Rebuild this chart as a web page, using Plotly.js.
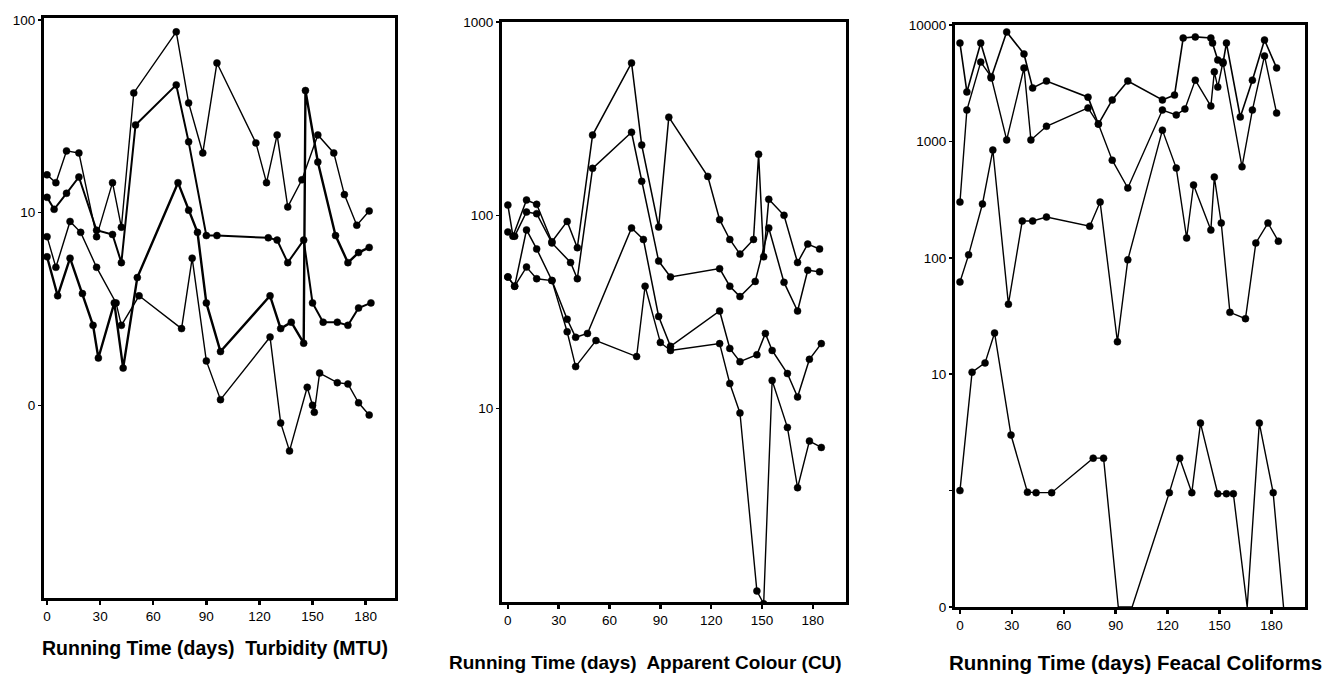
<!DOCTYPE html>
<html>
<head>
<meta charset="utf-8">
<script src="https://cdn.plot.ly/plotly-3.0.1.min.js"></script>
<style>html,body{margin:0;padding:0;background:#fff;}#chart{width:1330px;height:674px;}</style>
</head>
<body>
<div id="chart"></div>
<script>
// ---------- Panel 1: Turbidity (MTU) ----------
const turbA_days = [0,5,11,18,28,37,42,49,73,80,88,96,118,124,130,136,144,153,162,168,175,182];
const turbA_vals = [15.7,14.3,20.9,20.4,7.5,14.3,8.4,41.8,86.7,37.1,20.4,59.8,23,14.3,25.3,10.7,14.8,25.3,20.4,12.4,8.6,10.2];
const turbB_days = [0,4,11,18,28,37,42,50,73,80,90,96,125,130,136,145,150,156,164,170,176,183];
const turbB_vals = [12,10.4,12.6,15.3,8.1,7.7,5.5,28.5,46,23.3,7.6,7.6,7.4,7.2,5.5,7.2,3.4,2.7,2.7,2.6,3.2,3.4];
const turbC_days = [0,5,13,19,28,39,42,52,76,82,90,98,126,132,137,147,150,151,154,164,170,176,182];
const turbC_vals = [7.5,5.2,9.0,7.9,5.2,3.4,2.6,3.7,2.5,5.8,1.7,1.07,2.26,0.81,0.58,1.24,1.0,0.92,1.47,1.31,1.29,1.03,0.89];
const turbD_days = [0,6,13,20,26,29,38,43,51,74,80,85,90,98,126,132,138,145,146,153,163,170,176,182];
const turbD_vals = [5.9,3.7,5.8,3.8,2.6,1.76,3.4,1.56,4.6,14.3,10.3,7.9,3.4,1.9,3.7,2.5,2.7,2.1,43,18.3,7.6,5.5,6.2,6.6];

// ---------- Panel 2: Apparent Colour (CU) ----------
const colA_days = [0,3,11,17,26,35,41,50,73,79,89,95,118,125,131,137,145,148,151,154,163,171,177,184];
const colA_vals = [113,78,120,114,73,93,68,260,614,231,87,322,159,95,75,63,75,207,61,121,100,57,71,67];
const colB_days = [0,4,11,17,26,37,41,50,73,79,89,96,125,131,137,146,154,163,171,177,184];
const colB_vals = [82,78,104,102,72,57,47,175,269,150,58,48,53,43,38,45.5,86,45,32,52,51];
const colC_days = [0,4,11,17,26,35,40,47,73,80,89,96,125,131,137,147,152,156,165,171,178,185];
const colC_vals = [48,43,84,67,46,29,23.4,24.5,86,75,30,21,32,20.5,17.5,19,24.5,20,15.2,11.5,18,21.7];
const colD_days = [0,4,11,17,26,35,40,52,76,81,90,96,125,131,137,147,151,156,165,171,178,185];
const colD_vals = [48,43,54,47,46,25,16.5,22.5,18.6,43,22,20,21.7,13.5,9.5,1.14,0.98,14,8,3.9,6.8,6.3];

// ---------- Panel 3: Faecal Coliforms ----------
const fcA_days = [0,4,12,18,27,37,42,50,74,80,88,97,117,124,129,136,145,146,149,152,154,162,169,176,183];
const fcA_vals = [7000,2660,7000,3510,8710,5640,2880,3300,2400,1410,2270,3300,2270,2500,7730,7900,7730,7000,5000,4700,7000,1620,3360,7430,4280];
const fcB_days = [0,4,12,18,27,37,41,50,74,80,88,97,117,125,130,136,145,147,149,152,163,169,176,183];
const fcB_vals = [301,1860,4800,3600,1030,4270,1030,1350,1940,1410,690,398,1860,1690,1900,3360,2010,3960,2930,4810,605,1860,5420,1750];
const fcC_days = [0,5,13,19,28,36,42,50,75,81,91,97,117,125,131,135,145,147,151,156,165,171,178,184];
const fcC_vals = [62,106,290,843,40,207,207,224,187,301,19,96,1250,590,148,422,173,494,199,34,30,134,199,139];
// values of 0 are drawn on the axis floor (0.1, labelled "0")
const fcD_days = [0,7,14.5,20,29.5,39,44,53,77,83,91.5,99.5,121,127,134,139,149,154,158,166,173,181,187];
const fcD_vals = [1.0,10.4,12.5,22.6,3.0,0.97,0.96,0.96,1.9,1.9,0.1,0.1,0.96,1.9,0.96,3.8,0.94,0.94,0.94,0.1,3.8,0.96,0.1];

// ---------- Tick labels ----------
const xTickVals = [0,30,60,90,120,150,180];
const turbTickVals = [1,10,100];
const turbTickText = ["0","10","100"];
const colTickVals = [10,100,1000];
const colTickText = ["10","100","1000"];
const fcTickVals = [0.1,1,10,100,1000,10000];
const fcTickText = ["0","","10","100","1000","10000"];

const titles = [
  "Running Time (days)  Turbidity (MTU)",
  "Running Time (days)  Apparent Colour (CU)",
  "Running Time (days) Feacal Coliforms"
];

function series(x, y, xa, ya, w, floor) {
  return {
    x: x, y: y, xaxis: xa, yaxis: ya, type: 'scatter', mode: 'lines+markers',
    line: {color: '#000', width: w},
    marker: {color: '#000', opacity: 1, line: {color: '#000', width: 0.5},
             size: y.map(v => (floor !== undefined && v <= floor) ? 0 : 7)},
    showlegend: false, hoverinfo: 'x+y'
  };
}

const data = [
  series(turbA_days, turbA_vals, 'x', 'y', 1.4),
  series(turbB_days, turbB_vals, 'x', 'y', 2.0),
  series(turbC_days, turbC_vals, 'x', 'y', 1.4),
  series(turbD_days, turbD_vals, 'x', 'y', 2.4),
  series(colA_days, colA_vals, 'x2', 'y2', 1.5),
  series(colB_days, colB_vals, 'x2', 'y2', 1.5),
  series(colC_days, colC_vals, 'x2', 'y2', 1.5),
  series(colD_days, colD_vals, 'x2', 'y2', 1.4),
  series(fcA_days, fcA_vals, 'x3', 'y3', 1.6),
  series(fcB_days, fcB_vals, 'x3', 'y3', 1.4),
  series(fcC_days, fcC_vals, 'x3', 'y3', 1.4),
  series(fcD_days, fcD_vals, 'x3', 'y3', 1.4, 0.1)
];

const tickFont = {family: 'Liberation Sans, Arial, sans-serif', size: 13.5, color: '#000'};
function xax(domain, range, anchor) {
  return {domain: domain, range: range, anchor: anchor, tickvals: xTickVals,
    showline: true, linewidth: 3, linecolor: '#000', mirror: true,
    ticks: 'outside', ticklen: 4, tickwidth: 2.5, tickcolor: '#000',
    showgrid: false, zeroline: false, tickfont: tickFont};
}
function yax(domain, range, anchor, tv, tt) {
  return {domain: domain, range: range, anchor: anchor, type: 'log',
    tickvals: tv, ticktext: tt,
    showline: true, linewidth: 3, linecolor: '#000', mirror: true,
    ticks: 'outside', ticklen: 3, tickwidth: 1.5, tickcolor: '#000',
    showgrid: false, zeroline: false, tickfont: tickFont};
}

function titleFont(size) {
  return {family: 'Liberation Sans, Arial, sans-serif', size: size, color: '#000'};
}
const layout = {
  width: 1330, height: 674,
  margin: {l: 0, r: 0, t: 0, b: 0},
  paper_bgcolor: '#fff', plot_bgcolor: '#fff',
  xaxis: xax([0.0331, 0.2970], [-1.7, 196.6], 'y'),
  yaxis: yax([0.1128, 0.9733], [-1.0, 2.01], 'x', turbTickVals, turbTickText),
  xaxis2: xax([0.3774, 0.6361], [-3.5, 199.6], 'y2'),
  yaxis2: yax([0.1068, 0.9674], [0, 3], 'x2', colTickVals, colTickText),
  xaxis3: xax([0.7180, 0.9812], [-2.9, 199.4], 'y3'),
  yaxis3: yax([0.0994, 0.9629], [-1, 4], 'x3', fcTickVals, fcTickText),
  annotations: [
    {text: '<b>' + titles[0] + '</b>', xref: 'paper', yref: 'paper', x: 0.1617, y: 0.0386, showarrow: false, font: titleFont(19.5), xanchor: 'center', yanchor: 'middle'},
    {text: '<b>' + titles[1] + '</b>', xref: 'paper', yref: 'paper', x: 0.4857, y: 0.0178, showarrow: false, font: titleFont(19), xanchor: 'center', yanchor: 'middle'},
    {text: '<b>' + titles[2] + '</b>', xref: 'paper', yref: 'paper', x: 0.8534, y: 0.0178, showarrow: false, font: titleFont(20.5), xanchor: 'center', yanchor: 'middle'}
  ]
};

Plotly.newPlot('chart', data, layout, {displayModeBar: false, staticPlot: true});
</script>
</body>
</html>
